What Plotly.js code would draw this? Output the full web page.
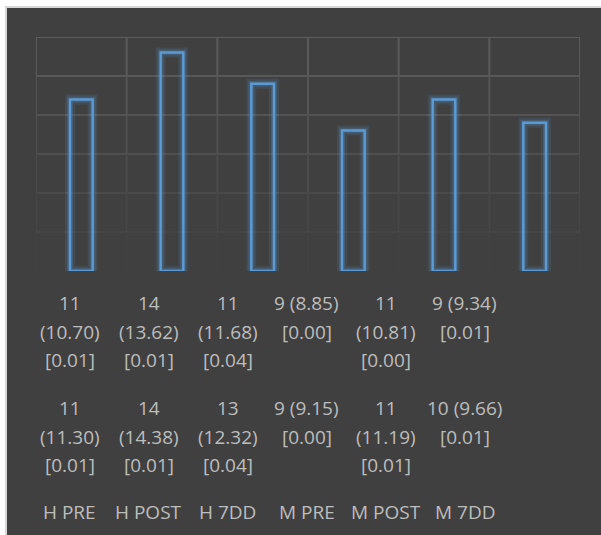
<!DOCTYPE html>
<html>
<head>
<meta charset="utf-8">
<script src="https://cdn.plot.ly/plotly-3.0.1.min.js"></script>
<style>
  html, body { margin: 0; padding: 0; background: #ffffff; width: 601px; height: 535px; overflow: hidden; }
  #frame { position: absolute; left: 5px; top: 6px; width: 595px; height: 528px;
           border-left: 2px solid #d6d6d6; border-top: 2px solid #d6d6d6; background: #404040; }
  #chart { width: 595px; height: 528px; }
</style>
</head>
<body>
<div id="frame"><div id="chart"></div></div>
<script>
// ---- data ----
var categories = ['H PRE', 'H POST', 'H 7DD', 'M PRE', 'M POST', 'M 7DD'];
var barValues  = [11, 14, 12, 9, 11, 9.5];

var counts1 = ['11', '14', '11', '9', '11', '9'];
var means1  = ['10.70', '13.62', '11.68', '8.85', '10.81', '9.34'];
var pvals1  = ['0.01', '0.01', '0.04', '0.00', '0.00', '0.01'];

var counts2 = ['11', '14', '13', '9', '11', '10'];
var means2  = ['11.30', '14.38', '12.32', '9.15', '11.19', '9.66'];
var pvals2  = ['0.01', '0.01', '0.04', '0.00', '0.01', '0.01'];

var gridVals = [2.5, 5, 7.5, 10, 12.5, 15];

// ---- styling ----
var BLUE = '#5b9bd5';
var TEXT = '#bdbdbd';
var FONT = '"Open Sans", "Liberation Sans", Arial, sans-serif';
var FS = 19;

var traces = [
  { type: 'bar', x: categories, y: barValues, width: 0.25, hoverinfo: 'skip',
    marker: { color: 'rgba(0,0,0,0)', line: { color: 'rgba(91,155,213,0.13)', width: 10 } } },
  { type: 'bar', x: categories, y: barValues, width: 0.25, hoverinfo: 'skip',
    marker: { color: 'rgba(0,0,0,0)', line: { color: 'rgba(91,155,213,0.22)', width: 6 } } },
  { type: 'bar', x: categories, y: barValues, width: 0.25, hoverinfo: 'skip',
    marker: { color: 'rgba(0,0,0,0)', line: { color: BLUE, width: 2.5 } } }
];

// gridlines fading toward the bottom
var hColors = ['#454545', '#4a4a4a', '#4f4f4f', '#545454', '#585858', '#5c5c5c'];
var shapes = [];
gridVals.forEach(function (v, i) {
  shapes.push({ type: 'line', xref: 'paper', yref: 'y', x0: 0, x1: 1, y0: v, y1: v,
                line: { color: hColors[i], width: 2 }, layer: 'below' });
});
// vertical separators (category boundaries), drawn as fading segments
var vBounds = [];
for (var k = 0; k <= categories.length; k++) vBounds.push(k - 0.5);
var segCols = ['#424242', '#464646', '#4b4b4b', '#505050', '#555555', '#5a5a5a'];
vBounds.forEach(function (xb) {
  for (var s = 0; s < gridVals.length; s++) {
    var lo = s === 0 ? 0 : gridVals[s - 1];
    shapes.push({ type: 'line', xref: 'x', yref: 'y', x0: xb, x1: xb, y0: lo, y1: gridVals[s],
                  line: { color: segCols[s], width: 2 }, layer: 'below' });
  }
});

// data table text below the chart
function cellLines(c, m, p) {
  if (m.length <= 4) return [c + ' (' + m + ')', '[' + p + ']'];
  return [c, '(' + m + ')', '[' + p + ']'];
}
var annotations = [];
var LH = 28.5;
function addText(i, t, shift) {
  annotations.push({ xref: 'x2', yref: 'paper', x: i, y: 0, yanchor: 'middle', xanchor: 'center',
    yshift: shift, text: t, showarrow: false, font: { family: FONT, size: FS, color: TEXT } });
}
categories.forEach(function (cat, i) {
  cellLines(counts1[i], means1[i], pvals1[i]).forEach(function (t, j) { addText(i, t, -32 - j * LH); });
  cellLines(counts2[i], means2[i], pvals2[i]).forEach(function (t, j) { addText(i, t, -137 - j * LH); });
  addText(i, cat, -241);
});

var layout = {
  width: 595, height: 528,
  margin: { l: 29, r: 22, t: 29, b: 265, pad: 0 },
  paper_bgcolor: '#404040', plot_bgcolor: '#404040',
  showlegend: false, barmode: 'overlay',
  xaxis: { type: 'category', range: [-0.5, 5.5], showgrid: false, zeroline: false,
           showticklabels: false, ticks: '', showline: false, fixedrange: true },
  xaxis2: { type: 'category', overlaying: 'x', range: [-0.43, 6.456], visible: false,
            categoryarray: [0, 1, 2, 3, 4, 5] },
  yaxis: { range: [0, 15], showgrid: false, zeroline: false, showticklabels: false,
           ticks: '', showline: false, fixedrange: true },
  shapes: shapes,
  annotations: annotations
};

Plotly.newPlot('chart', traces, layout, { displayModeBar: false, staticPlot: true });
</script>
</body>
</html>
